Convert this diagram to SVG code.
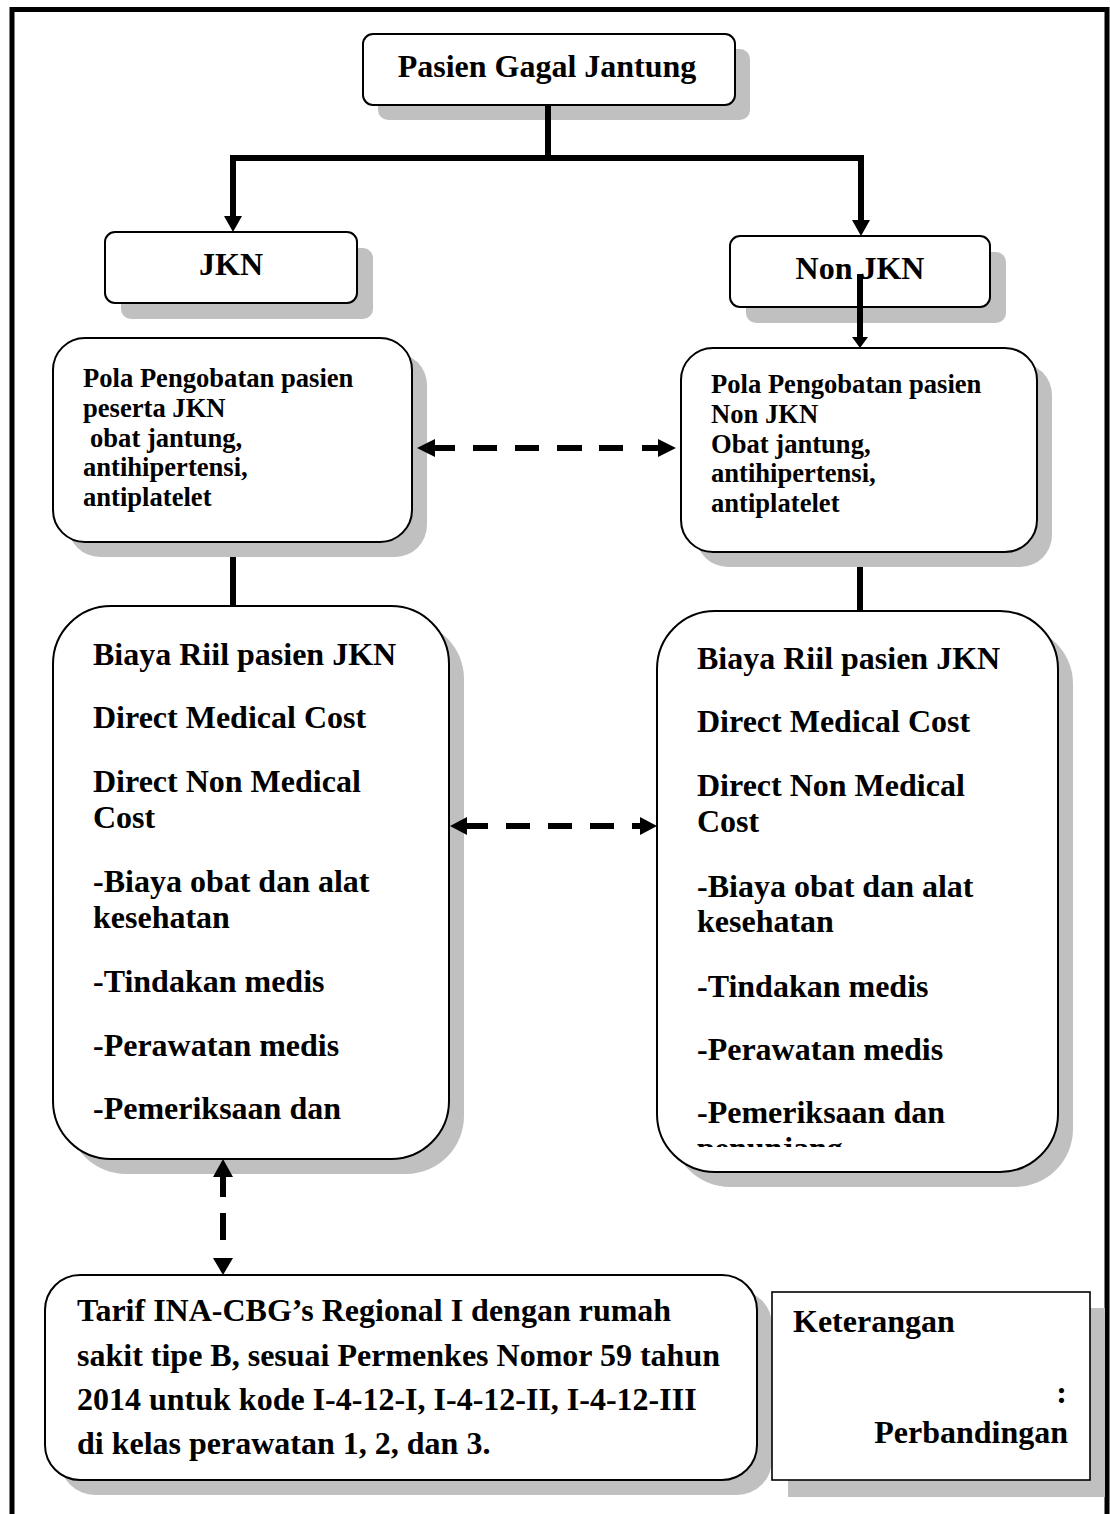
<svg xmlns="http://www.w3.org/2000/svg" width="1110" height="1514" viewBox="0 0 1110 1514">
<style>
.box{fill:#fff;stroke:#000;stroke-width:2}
.thin{fill:#fff;stroke:#000;stroke-width:1.6}
.sh{fill:#c0c0c0}
.t{font-family:"Liberation Serif","Times New Roman",serif;font-weight:bold;fill:#000}
.big{font-size:32px}
.mid{font-size:26.6px}
.ln{stroke:#000;stroke-width:6;fill:none}
.hd{fill:#000}
</style>
<defs>
<clipPath id="clipR"><rect x="657" y="611" width="401" height="536"/></clipPath>
</defs>
<rect width="1110" height="1514" fill="#fff"/>
<path d="M12,1514 V9.5 H1107 V1514" fill="none" stroke="#000" stroke-width="5"/>

<g id="top">
<rect class="sh" x="378" y="49" width="372" height="71" rx="10"/>
<rect class="box" x="363" y="34" width="372" height="71" rx="10"/>
<text class="t big" x="547" y="77" text-anchor="middle">Pasien Gagal Jantung</text>
</g>

<g id="jkn">
<rect class="sh" x="121" y="248" width="252" height="71" rx="10"/>
<rect class="box" x="105" y="232" width="252" height="71" rx="10"/>
<text class="t big" x="231" y="275" text-anchor="middle">JKN</text>
</g>

<g id="nonjkn">
<rect class="sh" x="746" y="252" width="260" height="71" rx="10"/>
<rect class="box" x="730" y="236" width="260" height="71" rx="10"/>
<text class="t big" x="860" y="279" text-anchor="middle">Non JKN</text>
</g>

<g id="polaJKN">
<rect class="sh" x="68" y="353" width="359" height="204" rx="32"/>
<rect class="box" x="53" y="338" width="359" height="204" rx="32"/>
<text class="t mid" x="83" y="387">Pola Pengobatan pasien</text>
<text class="t mid" x="83" y="417">peserta JKN</text>
<text class="t mid" x="90" y="447">obat jantung,</text>
<text class="t mid" x="83" y="476">antihipertensi,</text>
<text class="t mid" x="83" y="506">antiplatelet</text>
</g>

<g id="polaNonJKN">
<rect class="sh" x="696" y="363" width="356" height="204" rx="32"/>
<rect class="box" x="681" y="348" width="356" height="204" rx="32"/>
<text class="t mid" x="711" y="393">Pola Pengobatan pasien</text>
<text class="t mid" x="711" y="423">Non JKN</text>
<text class="t mid" x="711" y="453">Obat jantung,</text>
<text class="t mid" x="711" y="482">antihipertensi,</text>
<text class="t mid" x="711" y="512">antiplatelet</text>
</g>

<g id="biayaJKN">
<rect class="sh" x="68" y="621" width="396" height="553" rx="58"/>
<rect class="box" x="53" y="606" width="396" height="553" rx="58"/>
<text class="t big" x="93" y="665">Biaya Riil pasien JKN</text>
<text class="t big" x="93" y="728">Direct Medical Cost</text>
<text class="t big" x="93" y="792">Direct Non Medical</text>
<text class="t big" x="93" y="828">Cost</text>
<text class="t big" x="93" y="892">-Biaya obat dan alat</text>
<text class="t big" x="93" y="928">kesehatan</text>
<text class="t big" x="93" y="992">-Tindakan medis</text>
<text class="t big" x="93" y="1056">-Perawatan medis</text>
<text class="t big" x="93" y="1119">-Pemeriksaan dan</text>
</g>

<g id="biayaNonJKN">
<rect class="sh" x="672" y="626" width="401" height="561" rx="58"/>
<rect class="box" x="657" y="611" width="401" height="561" rx="58"/>
<g clip-path="url(#clipR)">
<text class="t big" x="697" y="669">Biaya Riil pasien JKN</text>
<text class="t big" x="697" y="732">Direct Medical Cost</text>
<text class="t big" x="697" y="796">Direct Non Medical</text>
<text class="t big" x="697" y="832">Cost</text>
<text class="t big" x="697" y="897">-Biaya obat dan alat</text>
<text class="t big" x="697" y="932">kesehatan</text>
<text class="t big" x="697" y="997">-Tindakan medis</text>
<text class="t big" x="697" y="1060">-Perawatan medis</text>
<text class="t big" x="697" y="1123">-Pemeriksaan dan</text>
<text class="t big" x="697" y="1159">penunjang</text>
</g>
</g>

<g id="tarif">
<rect class="sh" x="60" y="1290" width="712" height="205" rx="35"/>
<rect class="box" x="45" y="1275" width="712" height="205" rx="35"/>
<text class="t big" x="77" y="1321">Tarif INA-CBG’s Regional I dengan rumah</text>
<text class="t big" x="77" y="1366">sakit tipe B, sesuai Permenkes Nomor 59 tahun</text>
<text class="t big" x="77" y="1410">2014 untuk kode I-4-12-I, I-4-12-II, I-4-12-III</text>
<text class="t big" x="77" y="1454">di kelas perawatan 1, 2, dan 3.</text>
</g>

<g id="keterangan">
<rect class="sh" x="788" y="1308" width="317" height="189"/>
<rect class="thin" x="772" y="1292" width="318" height="188"/>
<text class="t big" x="793" y="1332">Keterangan</text>
<text class="t big" x="1067" y="1403" text-anchor="end">:</text>
<text class="t big" x="1068" y="1443" text-anchor="end">Perbandingan</text>
</g>

<g id="connectors">
<path class="ln" d="M548,105 V158 M230,158 H864 M233,158 V217 M861,158 V221"/>
<polygon class="hd" points="224,216 242,216 233,232"/>
<polygon class="hd" points="852,220 870,220 861,236"/>
<path class="ln" d="M860,274 V339"/>
<polygon class="hd" points="852,337 868,337 860,348"/>
<path class="ln" d="M233,557 V606 M860,567 V611"/>
<path class="ln" d="M433,448 H455 M473,448 H497 M515,448 H539 M557,448 H582 M599,448 H623 M642,448 H660"/>
<polygon class="hd" points="417,448 435,439 435,457"/>
<polygon class="hd" points="676,448 658,439 658,457"/>
<path class="ln" d="M465,826 H488 M506,826 H530 M548,826 H572 M590,826 H614 M632,826 H642"/>
<polygon class="hd" points="450,826 467,817 467,835"/>
<polygon class="hd" points="657,826 640,817 640,835"/>
<path class="ln" d="M223,1175 V1197 M223,1213 V1240"/>
<polygon class="hd" points="223,1159 213,1177 233,1177"/>
<polygon class="hd" points="213,1258 233,1258 223,1275"/>
</g>
</svg>
